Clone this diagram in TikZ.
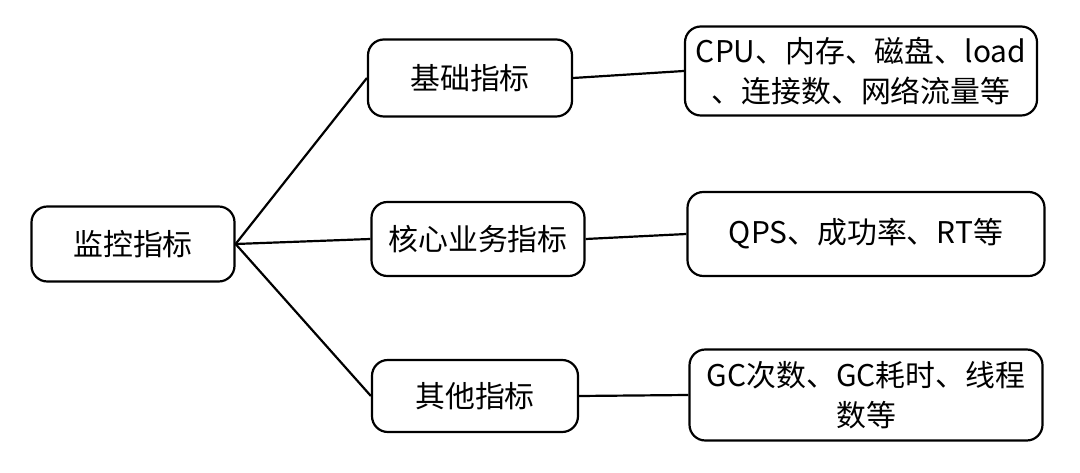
\documentclass[tikz,border=0pt]{standalone}
\usepackage{fontspec}
\newfontfamily\cjk{Noto Sans CJK SC}
\usetikzlibrary{calc}

\begin{document}
\begin{tikzpicture}[thick, line width=1.25pt,
    box/.style={draw, rounded corners=9pt, align=center, inner sep=2pt,
                font=\cjk\fontsize{17}{23}\selectfont}]
    \useasboundingbox (0, 0) rectangle (21.6, 9.44);

    \coordinate (R) at (2.66, 4.56);
    \coordinate (M1) at (9.4, 7.88);
    \coordinate (M2) at (9.56, 4.66);
    \coordinate (M3) at (9.5, 1.52);
    \coordinate (E1) at (17.22, 8.02);
    \coordinate (E2) at (17.32, 4.76);
    \coordinate (E3) at (17.32, 1.54);

    \node[box, minimum width=4.06cm, minimum height=1.5cm] (root) at (R) {监控指标};

    \node[box, minimum width=4.08cm, minimum height=1.54cm] (base) at (M1) {基础指标};
    \node[box, minimum width=4.26cm, minimum height=1.48cm] (core) at (M2) {核心业务指标};
    \node[box, minimum width=4.12cm, minimum height=1.44cm] (other) at (M3) {其他指标};

    \node[box, minimum width=7.04cm, minimum height=1.78cm] (baseitems) at (E1)
        {CPU、内存、磁盘、load\\、连接数、网络流量等};
    \node[box, minimum width=7.14cm, minimum height=1.68cm] (coreitems) at (E2)
        {QPS、成功率、RT等};
    \node[box, minimum width=7.06cm, minimum height=1.82cm] (otheritems) at (E3)
        {GC次数、GC耗时、线程\\数等};

    % root to second level
    \draw (root.east) -- (base.west);
    \draw (root.east) -- (core.west);
    \draw (root.east) -- (other.west);

    % second level to details
    \draw (base.east) -- (baseitems.west);
    \draw (core.east) -- (coreitems.west);
    \draw (other.east) -- (otheritems.west);
\end{tikzpicture}
\end{document}
